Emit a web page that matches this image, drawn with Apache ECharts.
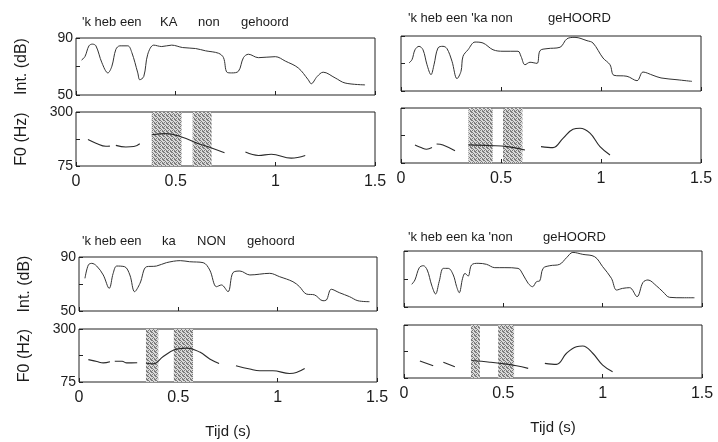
<!DOCTYPE html>
<html>
<head>
<meta charset="utf-8">
<script src="https://cdn.jsdelivr.net/npm/echarts@6/dist/echarts.min.js"></script>
<style>html,body{margin:0;background:#fff}#chart{width:718px;height:442px}</style>
</head>
<body>
<div id="chart"></div>
<script>
// intensity contours (time in s, dB)
const tlIntTime = [0.028,0.045,0.065,0.082,0.10,0.13,0.16,0.18,0.20,0.22,0.26,0.28,0.31,0.32,0.34,0.36,0.39,0.43,0.48,0.535,0.60,0.65,0.715,0.74,0.757,0.78,0.815,0.84,0.865,0.915,1.0,1.05,1.115,1.165,1.18,1.21,1.24,1.30,1.35,1.45];
const tlIntDb = [74.5,77,84.5,85.7,84.5,72.6,65.5,70.2,82,84.5,84.5,79.8,65.5,60.7,63,78.6,85,84,85,83.3,82.6,81,79.3,76.2,66,65.5,66.7,76.2,78.6,76.2,76.9,73.8,69,60.7,57.9,63,66,62,58.4,57.1];
const trIntTime = [0.04,0.055,0.07,0.09,0.11,0.13,0.15,0.165,0.185,0.21,0.23,0.255,0.28,0.30,0.31,0.335,0.37,0.41,0.46,0.51,0.585,0.60,0.62,0.645,0.68,0.695,0.73,0.795,0.83,0.87,0.93,0.96,1.01,1.045,1.065,1.13,1.18,1.21,1.26,1.30,1.38,1.455];
const trIntDb = [70.4,72.8,80,82.5,80,69.1,61.9,69.1,81.3,82.5,80.8,71.6,59,64.3,75.2,80,85.6,84.9,80,78.9,78.9,75.2,69.1,70.9,70.1,79.3,80.8,81.8,88,89,86.6,84.9,74,69.1,61.4,60.7,57.5,63.8,61.4,59.5,58.2,57];
const blIntTime = [0.03,0.047,0.064,0.089,0.122,0.152,0.172,0.19,0.23,0.256,0.28,0.307,0.34,0.39,0.44,0.51,0.557,0.625,0.658,0.692,0.717,0.75,0.775,0.81,0.86,0.96,1.01,1.077,1.11,1.144,1.186,1.228,1.245,1.27,1.31,1.362,1.404,1.462];
const blIntDb = [74.2,84.1,85.3,83.3,76.7,66.8,77.9,83.3,82.8,76.7,64.3,70.5,82.8,83.3,85.8,87.3,86.5,85.8,80.4,68,69.3,64.3,78.4,79.6,76.7,77.9,75.4,71.7,68,62.6,61.9,57.6,58.1,66.1,63.6,60.6,57.6,56.9];
const brIntTime = [0.039,0.055,0.077,0.097,0.117,0.139,0.159,0.177,0.198,0.223,0.248,0.265,0.278,0.295,0.307,0.323,0.34,0.373,0.415,0.457,0.508,0.574,0.60,0.625,0.647,0.667,0.683,0.70,0.734,0.784,0.818,0.85,0.90,0.96,1.0,1.044,1.07,1.10,1.136,1.173,1.203,1.228,1.27,1.303,1.337,1.404,1.462];
const brIntDb = [66.2,69.3,78.1,79.5,76.4,65.7,59.3,68.1,77.6,77.6,72.9,64.5,60.2,70.5,74,72.1,80,81.2,80.5,78.1,78.1,77.6,72.9,66.9,64.5,68.1,68.6,77.6,79.5,80.5,85.2,89,87.6,85.9,78.8,70.5,62.1,63.3,63.8,57.4,67.6,69.3,65.2,60.9,56.9,56.6,56.6];

// F0 contours [time, Hz], null = voiceless gap
const tlF0 = [[0.06,185],[0.10,170],[0.15,157],[0.17,158],[0.18,null],[0.20,161],[0.25,154],[0.29,156],[0.32,168],[0.35,null],[0.38,205],[0.45,210],[0.53,196],[0.615,168],[0.68,150],[0.745,130],[0.8,null],[0.85,133],[0.915,119],[0.98,124],[1.08,108],[1.15,119]];
const trF0 = [[0.07,149],[0.10,138],[0.128,131],[0.155,138],[0.165,null],[0.178,153],[0.21,149],[0.27,125],[0.3,null],[0.337,149],[0.445,146],[0.53,142],[0.62,128],[0.66,null],[0.70,142],[0.76,138],[0.81,176],[0.86,213],[0.895,217],[0.945,197],[0.995,142],[1.045,108]];
const blF0 = [[0.047,170],[0.09,162],[0.122,156],[0.156,161],[0.168,null],[0.18,163],[0.217,163],[0.24,156],[0.293,157],[0.315,null],[0.337,156],[0.373,152],[0.424,183],[0.48,212],[0.541,219],[0.608,202],[0.658,173],[0.705,154],[0.75,null],[0.79,144],[0.86,130],[0.91,123],[0.976,123],[1.06,111],[1.094,115],[1.136,132]];
const brF0 = [[0.08,147],[0.147,127],[0.17,null],[0.198,142],[0.256,123],[0.3,null],[0.34,149],[0.432,142],[0.516,134],[0.566,127],[0.625,116],[0.67,null],[0.709,137],[0.767,133],[0.818,180],[0.868,208],[0.9,211],[0.95,180],[1.0,130],[1.05,102]];

// shaded (accented) intervals, s
const tlShade = [[0.38,0.53],[0.585,0.68]];
const trShade = [[0.337,0.458],[0.51,0.607]];
const blShade = [[0.337,0.399],[0.477,0.574]];
const brShade = [[0.337,0.382],[0.474,0.554]];

// sentence words above each panel
const tlWords = ["'k heb een", 'KA', 'non', 'gehoord'];
const trWords = ["'k heb een 'ka non", 'geHOORD'];
const blWords = ["'k heb een", 'ka', 'NON', 'gehoord'];
const brWords = ["'k heb een ka 'non", 'geHOORD'];

const intTicks = [50, 70, 90];
const intLabels = [50, 90];
const f0Ticks = [75, 187.5, 300];
const f0Labels = [75, 300];

const zip = (a, b) => a.map((v, i) => [v, b[i]]);

const panels = [
  {int: zip(tlIntTime, tlIntDb), f0: tlF0, shade: tlShade, words: tlWords, wordX: [82, 160, 198, 241], wordY: 22,
   left: 76, width: 299, intTop: 38, intH: 57, f0Top: 112, f0H: 54, first: true, bottom: false},
  {int: zip(trIntTime, trIntDb), f0: trF0, shade: trShade, words: trWords, wordX: [408, 548], wordY: 18,
   left: 401, width: 300, intTop: 36, intH: 55, f0Top: 108, f0H: 55, first: false, bottom: false},
  {int: zip(blIntTime, blIntDb), f0: blF0, shade: blShade, words: blWords, wordX: [82, 162, 197, 247], wordY: 241,
   left: 79, width: 298, intTop: 257, intH: 54, f0Top: 329, f0H: 53, first: true, bottom: true},
  {int: zip(brIntTime, brIntDb), f0: brF0, shade: brShade, words: brWords, wordX: [408, 543], wordY: 237,
   left: 404, width: 298, intTop: 251, intH: 56, f0Top: 325, f0H: 53, first: false, bottom: true}
];

// stipple pattern for the shaded areas (irregular dots, no diagonal)
const dots = [
  '1001',
  '0100',
  '1010',
  '0011'
];
const pat = document.createElement('canvas');
pat.width = 4; pat.height = 4;
const pc = pat.getContext('2d');
pc.fillStyle = '#dadada'; pc.fillRect(0, 0, 4, 4);
pc.fillStyle = '#7c7c7c';
dots.forEach((row, y) => row.split('').forEach((c, x) => { if (c === '1') pc.fillRect(x, y, 1, 1); }));

const font = 'Liberation Sans, Arial, sans-serif';
const ink = '#1c1c1c';

const grid = [], xAxis = [], yAxis = [], series = [], graphic = [];

panels.forEach((p) => {
  const gi = grid.length;
  grid.push({left: p.left, top: p.intTop, width: p.width, height: p.intH, show: true, borderColor: '#222', borderWidth: 1});
  grid.push({left: p.left, top: p.f0Top, width: p.width, height: p.f0H, show: true, borderColor: '#222', borderWidth: 1});

  [0, 1].forEach((k) => {
    const isF0 = k === 1;
    xAxis.push({
      gridIndex: gi + k, type: 'value', min: 0, max: 1.5, interval: 0.5,
      axisLine: {show: false},
      axisTick: {inside: true, length: 4, lineStyle: {color: '#222'}},
      axisLabel: {show: isF0, fontSize: 16, color: ink, fontFamily: font, margin: 8},
      splitLine: {show: false},
      name: isF0 && p.bottom ? 'Tijd (s)' : '',
      nameLocation: 'middle', nameGap: 42,
      nameTextStyle: {fontSize: 15, color: ink, fontFamily: font}
    });
    yAxis.push({
      gridIndex: gi + k, type: 'value',
      min: isF0 ? 75 : 50, max: isF0 ? 300 : 90,
      axisLine: {show: false},
      axisTick: {inside: true, length: 4, lineStyle: {color: '#222'}, customValues: isF0 ? f0Ticks : intTicks},
      axisLabel: {show: p.first, fontSize: 14, color: ink, fontFamily: font, margin: 3, customValues: isF0 ? f0Labels : intLabels},
      splitLine: {show: false},
      name: p.first ? (isF0 ? 'F0 (Hz)' : 'Int. (dB)') : '',
      nameLocation: 'middle', nameRotate: 90, nameGap: 46,
      nameTextStyle: {fontSize: 16, color: ink, fontFamily: font}
    });
  });

  series.push({
    type: 'line', xAxisIndex: gi, yAxisIndex: gi, data: p.int,
    showSymbol: false, smooth: 0.35, silent: true,
    lineStyle: {color: '#333', width: 1}
  });
  series.push({
    type: 'line', xAxisIndex: gi + 1, yAxisIndex: gi + 1, data: p.f0,
    showSymbol: false, smooth: 0.4, connectNulls: false, silent: true,
    lineStyle: {color: '#2a2a2a', width: 1.1},
    markArea: {
      silent: true,
      itemStyle: {color: {image: pat, repeat: 'repeat'}},
      data: p.shade.map(([a, b]) => [{xAxis: a}, {xAxis: b}])
    }
  });

  p.words.forEach((w, i) => {
    graphic.push({
      type: 'text', x: p.wordX[i], y: p.wordY,
      style: {text: w, font: '13px ' + font, fill: ink, verticalAlign: 'middle'}
    });
  });
});

const chart = echarts.init(document.getElementById('chart'));
chart.setOption({
  backgroundColor: '#fff',
  animation: false,
  grid, xAxis, yAxis, series, graphic
});
</script>
</body>
</html>
